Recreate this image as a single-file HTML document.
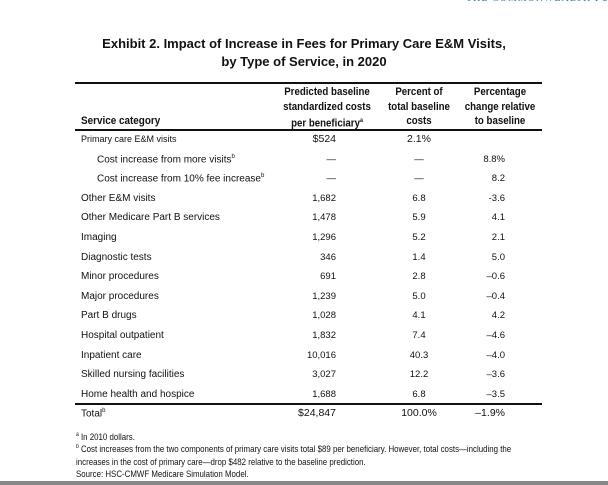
<!DOCTYPE html>
<html><head><meta charset="utf-8"><style>
body{margin:0;width:608px;height:485px;background:#fff;position:relative;overflow:hidden;font-family:"Liberation Sans Narrow","Liberation Sans",sans-serif;color:#111}
.a{position:absolute;white-space:nowrap}
.t{font-family:"Liberation Sans",sans-serif;font-weight:bold;font-size:13px;width:608px;text-align:center;left:0}
.h{font-weight:bold;font-size:11px;text-align:center;line-height:14.5px;transform:scaleX(0.88)}
.r{font-size:10px}
.v{font-size:9.5px}
.rule{position:absolute;left:75px;width:467px;background:#111}
.f{font-size:9.5px;transform:scaleX(0.83);transform-origin:left}
sup{font-size:6px}
</style></head><body>
<div class="a" style="left:466px;top:-7px;font-family:'Liberation Serif',serif;font-size:10px;color:#4a6a8a;letter-spacing:1px">THE COMMONWEALTH FUND</div>
<div class="a t" style="top:36px">Exhibit 2. Impact of Increase in Fees for Primary Care E&amp;M Visits,</div>
<div class="a t" style="top:54px">by Type of Service, in 2020</div>
<div class="rule" style="top:82px;height:2px"></div>
<div class="rule" style="top:129px;height:2px"></div>
<div class="rule" style="top:403px;height:2px"></div>
<div class="a r" style="left:81px;top:115px;font-weight:bold;font-size:11px;transform:scaleX(0.9);transform-origin:left">Service category</div>
<div class="a h" style="left:272px;width:110px;top:85px">Predicted baseline<br>standardized costs<br>per beneficiary<sup>a</sup></div>
<div class="a h" style="left:369px;width:100px;top:85px">Percent of<br>total baseline<br>costs</div>
<div class="a h" style="left:450px;width:100px;top:85px">Percentage<br>change relative<br>to baseline</div>
<div id="rows"></div>
<div class="a f" style="left:76px;top:432px"><sup>a</sup> In 2010 dollars.</div>
<div class="a f" style="left:76px;top:444px"><sup>b</sup> Cost increases from the two components of primary care visits total $89 per beneficiary. However, total costs—including the</div>
<div class="a f" style="left:76px;top:457px">increases in the cost of primary care—drop $482 relative to the baseline prediction.</div>
<div class="a f" style="left:76px;top:469px">Source: HSC-CMWF Medicare Simulation Model.</div>
<div class="a" style="left:0;top:481px;width:608px;height:4px;background:#888"></div>
<script>
const categories=["Primary care E&M visits","Cost increase from more visits<sup>b</sup>","Cost increase from 10% fee increase<sup>b</sup>","Other E&M visits","Other Medicare Part B services","Imaging","Diagnostic tests","Minor procedures","Major procedures","Part B drugs","Hospital outpatient","Inpatient care","Skilled nursing facilities","Home health and hospice","Total<sup>b</sup>"];
const costs=["$524","—","—","1,682","1,478","1,296","346","691","1,239","1,028","1,832","10,016","3,027","1,688","$24,847"];
const pct=["2.1%","—","—","6.8","5.9","5.2","1.4","2.8","5.0","4.1","7.4","40.3","12.2","6.8","100.0%"];
const change=["","8.8%","8.2","-3.6","4.1","2.1","5.0","–0.6","–0.4","4.2","–4.6","–4.0","–3.6","–3.5","–1.9%"];
const c=document.getElementById('rows');
categories.forEach((cat,i)=>{
  const y=134+i*19.6;
  const ind=(i==1||i==2)?22:6;
  const l=document.createElement('div');l.className='a r';
  
  
  l.style.left=(75+ind)+'px';l.style.top=y+'px';l.innerHTML=cat;
  if(i==0)l.style.fontSize='9px';
  c.appendChild(l);
  const mk=(txt,x,align,name)=>{const d=document.createElement('div');d.className='a v';
    
    
    d.style.top=y+'px';d.style.width='80px';d.style.textAlign=align;d.style.left=x+'px';
    if(i==0||i==14){d.style.fontSize='10.5px';d.style.top=(y-1)+'px';}
    d.textContent=txt;c.appendChild(d);};
  mk(costs[i],256,'right','cost-value');
  mk(pct[i],379,'center','percent-value');
  mk(change[i],425,'right','change-value');
});
</script>
</body></html>
